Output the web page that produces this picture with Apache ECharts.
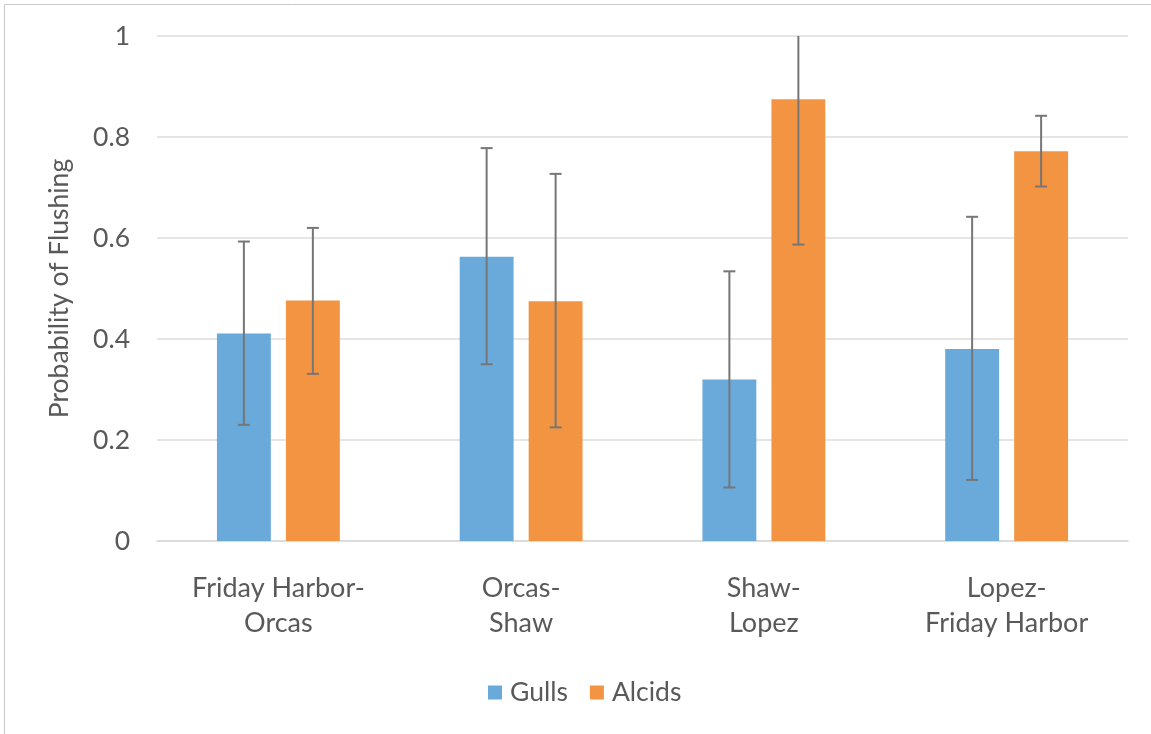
<!DOCTYPE html>
<html>
<head>
<meta charset="utf-8">
<script src="https://cdn.jsdelivr.net/npm/echarts@6/dist/echarts.min.js"></script>
<style>
html,body{margin:0;padding:0;background:#fff;}
#chart{width:1151px;height:734px;}
</style>
</head>
<body>
<div id="chart"></div>
<script>
var categories = ['Friday Harbor-\nOrcas', 'Orcas-\nShaw', 'Shaw-\nLopez', 'Lopez-\nFriday Harbor'];
var seriesNames = ['Gulls', 'Alcids'];
var gulls = [0.411, 0.563, 0.320, 0.380];
var alcids = [0.476, 0.475, 0.875, 0.772];
var gullsLow = [0.230, 0.350, 0.106, 0.121];
var gullsHigh = [0.593, 0.778, 0.534, 0.642];
var alcidsLow = [0.331, 0.225, 0.587, 0.702];
var alcidsHigh = [0.620, 0.727, 1.163, 0.842];
var yTicks = [0, 0.2, 0.4, 0.6, 0.8, 1];

var FONT = 'Lato';
var TXT = '#595959';
var BAR_W = 0.222;
var BAR_GAP = 0.28;

function errData(low, high) {
  return low.map(function (l, i) { return [i, l, high[i]]; });
}

function errRenderer(side) {
  return function (params, api) {
    var idx = api.value(0);
    var lo = api.coord([idx, api.value(1)]);
    var hi = api.coord([idx, api.value(2)]);
    var band = api.size([1, 0])[0];
    var bw = band * BAR_W;
    var off = (bw + bw * BAR_GAP) / 2 * side;
    var x = lo[0] + off;
    var cap = 6;
    var style = { stroke: '#767676', lineWidth: 2 };
    return {
      type: 'group',
      children: [
        { type: 'line', shape: { x1: x, y1: lo[1], x2: x, y2: hi[1] }, style: style },
        { type: 'line', shape: { x1: x - cap, y1: lo[1], x2: x + cap, y2: lo[1] }, style: style },
        { type: 'line', shape: { x1: x - cap, y1: hi[1], x2: x + cap, y2: hi[1] }, style: style }
      ]
    };
  };
}

var chart = echarts.init(document.getElementById('chart'), null, { renderer: 'canvas' });
chart.setOption({
  backgroundColor: '#fff',
  animation: false,
  textStyle: { fontFamily: FONT },
  graphic: [{
    type: 'rect',
    shape: { x: 4.5, y: 4.5, width: 1200, height: 800 },
    style: { fill: 'none', stroke: '#c8c8c8', lineWidth: 1 },
    silent: true
  }],
  grid: { left: 157, right: 23, top: 36, bottom: 193, containLabel: false },
  legend: {
    data: seriesNames,
    bottom: 23,
    left: 483,
    itemWidth: 14,
    itemHeight: 14,
    itemGap: 22,
    icon: 'rect',
    textStyle: { fontFamily: FONT, fontSize: 26.5, color: TXT, padding: [0, 0, 0, 3] }
  },
  xAxis: {
    type: 'category',
    data: categories,
    axisLine: { show: true, lineStyle: { color: '#d9d9d9', width: 1.5 } },
    axisTick: { show: false },
    axisLabel: { fontFamily: FONT, fontSize: 27, color: TXT, lineHeight: 35, margin: 30, interval: 0 }
  },
  yAxis: {
    type: 'value',
    min: 0,
    max: 1,
    interval: 0.2,
    name: 'Probability of Flushing',
    nameLocation: 'middle',
    nameGap: 84,
    nameRotate: 90,
    nameTextStyle: { fontFamily: FONT, fontSize: 26.5, color: TXT },
    axisLine: { show: false },
    axisTick: { show: false },
    splitLine: { lineStyle: { color: '#dcdcdc', width: 1.5 } },
    axisLabel: {
      fontFamily: FONT, fontSize: 26.5, color: TXT, margin: 27,
      formatter: function (v) {
        for (var i = 0; i < yTicks.length; i++) if (Math.abs(yTicks[i] - v) < 1e-9) return String(yTicks[i]);
        return '';
      }
    }
  },
  series: [
    { name: 'Gulls', type: 'bar', data: gulls, barWidth: (BAR_W * 100) + '%', barGap: (BAR_GAP * 100) + '%',
      itemStyle: { color: '#6aaadb' } },
    { name: 'Alcids', type: 'bar', data: alcids, barWidth: (BAR_W * 100) + '%', barGap: (BAR_GAP * 100) + '%',
      itemStyle: { color: '#f29441' } },
    { type: 'custom', name: 'Gulls err', renderItem: errRenderer(-1), data: errData(gullsLow, gullsHigh),
      encode: { x: 0, y: [1, 2] }, clip: true, z: 10, silent: true },
    { type: 'custom', name: 'Alcids err', renderItem: errRenderer(1), data: errData(alcidsLow, alcidsHigh),
      encode: { x: 0, y: [1, 2] }, clip: true, z: 10, silent: true }
  ]
});
</script>
</body>
</html>
